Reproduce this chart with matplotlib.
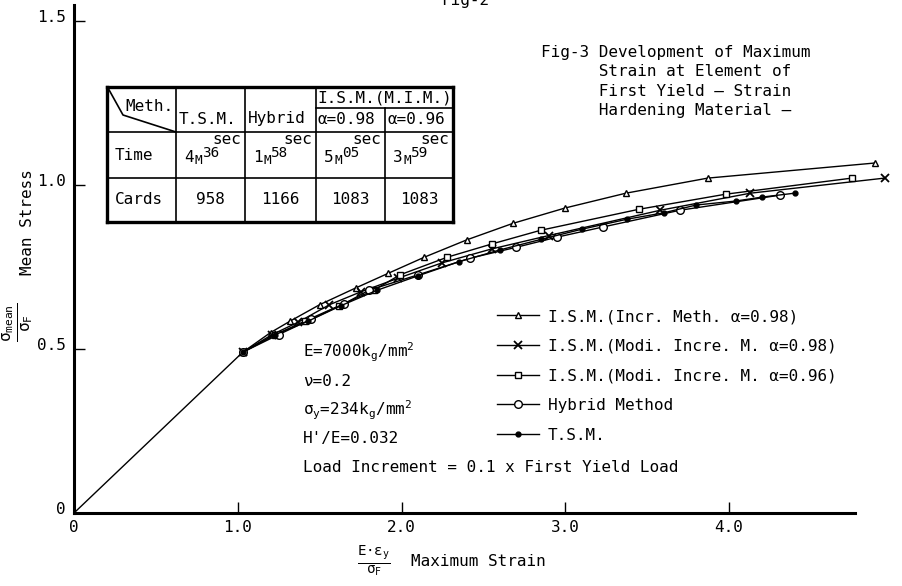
import matplotlib
matplotlib.use('Agg')
import matplotlib.pyplot as plt
import matplotlib.transforms as mtransforms
from matplotlib.lines import Line2D

plt.rcParams['font.family'] = ['DejaVu Sans Mono', 'DejaVu Sans']
plt.rcParams['mathtext.fontset'] = 'custom'
plt.rcParams['mathtext.rm'] = 'DejaVu Sans Mono'
plt.rcParams['mathtext.it'] = 'DejaVu Sans Mono'
plt.rcParams['mathtext.bf'] = 'DejaVu Sans Mono'

# --- data ---
elastic_x = [0.0, 1.03]
elastic_y = [0.0, 0.49]

tri_x = [1.03, 1.20, 1.32, 1.50, 1.72, 1.92, 2.14, 2.40, 2.68, 3.00, 3.37, 3.87, 4.89]
tri_y = [0.49, 0.55, 0.585, 0.635, 0.686, 0.731, 0.78, 0.833, 0.883, 0.93, 0.975, 1.021, 1.067]

cross_x = [1.03, 1.21, 1.37, 1.56, 1.75, 1.98, 2.25, 2.55, 2.90, 3.58, 4.13, 4.95]
cross_y = [0.49, 0.544, 0.582, 0.635, 0.674, 0.716, 0.763, 0.805, 0.846, 0.923, 0.975, 1.021]

sq_x = [1.03, 1.23, 1.41, 1.62, 1.83, 1.99, 2.28, 2.55, 2.85, 3.45, 3.98, 4.75]
sq_y = [0.49, 0.544, 0.585, 0.632, 0.679, 0.726, 0.78, 0.82, 0.862, 0.926, 0.972, 1.021]

circ_x = [1.03, 1.25, 1.45, 1.65, 1.80, 2.10, 2.42, 2.70, 2.95, 3.23, 3.70, 4.31]
circ_y = [0.49, 0.544, 0.591, 0.638, 0.679, 0.726, 0.777, 0.81, 0.841, 0.872, 0.923, 0.969]

tsm_x = [1.03, 1.23, 1.43, 1.63, 1.85, 2.10, 2.35, 2.60, 2.85, 3.10, 3.38, 3.60, 3.80, 4.04, 4.20, 4.40]
tsm_y = [0.49, 0.544, 0.585, 0.632, 0.679, 0.723, 0.766, 0.802, 0.834, 0.865, 0.896, 0.915, 0.939, 0.951, 0.963, 0.975]

legend_labels = ['I.S.M.(Incr. Meth. \u03b1=0.98)',
                 'I.S.M.(Modi. Incre. M. \u03b1=0.98)',
                 'I.S.M.(Modi. Incre. M. \u03b1=0.96)',
                 'Hybrid Method',
                 'T.S.M.']

x_ticks = [0, 1.0, 2.0, 3.0, 4.0]
x_ticklabels = ['0', '1.0', '2.0', '3.0', '4.0']
y_ticks = [0, 0.5, 1.0, 1.5]
y_ticklabels = ['0', '0.5', '1.0', '1.5']

param_lines = ['E=7000k$_{\\mathrm{g}}$/mm$^{2}$',
               '\u03bd=0.2',
               '\u03c3$_{\\mathrm{y}}$=234k$_{\\mathrm{g}}$/mm$^{2}$',
               "H'/E=0.032",
               'Load Increment = 0.1 x First Yield Load']

title_lines = ['Fig-3 Development of Maximum',
               '      Strain at Element of',
               '      First Yield \u2014 Strain',
               '      Hardening Material \u2014']

tab_heads = ['T.S.M.', 'Hybrid']
tab_ism = 'I.S.M.(M.I.M.)'
tab_alpha = ['\u03b1=0.98', '\u03b1=0.96']
time_min = ['4', '1', '5', '3']
time_sec = ['36', '58', '05', '59']
cards = ['958', '1166', '1083', '1083']

W, H = 902, 586
FS = 11.5
CW = FS * 100 / 72 * 0.602  # advance of one mono char in px


def P(x, y):
    # pixel (top-left origin) -> figure fraction
    return x / W, 1 - y / H


fig = plt.figure(figsize=(W / 100, H / 100), dpi=100)
x0, x1 = 74, 892.75          # x = 0 .. 5.0
y0 = 513                     # y = 0
ytop = y0 - 1.55 * 328       # y = 1.55
ax = fig.add_axes([x0 / W, 1 - y0 / H, (x1 - x0) / W, (y0 - ytop) / H])
ax.set_xlim(0, 5.0)
ax.set_ylim(0, 1.55)

lw = 1.0
ax.plot(elastic_x, elastic_y, color='black', lw=lw)
l1, = ax.plot(tri_x, tri_y, color='black', lw=lw, marker='^', ms=5, mfc='white', mew=1)
l2, = ax.plot(cross_x, cross_y, color='black', lw=lw, marker='x', ms=6, mew=1.3)
l3, = ax.plot(sq_x, sq_y, color='black', lw=lw, marker='s', ms=5, mfc='white', mew=1)
l4, = ax.plot(circ_x, circ_y, color='black', lw=lw, marker='o', ms=5.5, mfc='white', mew=1)
l5, = ax.plot(tsm_x, tsm_y, color='black', lw=lw, marker='o', ms=3.5)

for s in ['top', 'right']:
    ax.spines[s].set_visible(False)
ax.spines['left'].set_linewidth(2.2)
ax.spines['bottom'].set_linewidth(2.2)
ax.spines['bottom'].set_bounds(0, 4.77)
ax.set_xticks(x_ticks)
ax.set_xticklabels(x_ticklabels, fontsize=FS)
ax.set_yticks(y_ticks)
ax.set_yticklabels(y_ticklabels, fontsize=FS)
ax.tick_params(direction='in', length=8, width=1)
ax.tick_params(axis='x', pad=5)
ax.tick_params(axis='y', pad=6)
shift = mtransforms.ScaledTranslation(0, 5 / 100, fig.dpi_scale_trans)
for lab in ax.get_yticklabels():
    lab.set_transform(lab.get_transform() + shift)

leg = ax.legend([l1, l2, l3, l4, l5], legend_labels, loc='upper left',
                bbox_to_anchor=P(497, 309), bbox_transform=fig.transFigure,
                frameon=False, fontsize=FS, handlelength=2.6, handletextpad=0.6,
                labelspacing=0.92, borderpad=0, borderaxespad=0, numpoints=1)

for i, t in enumerate(param_lines):
    fig.text(*P(303, 352 + i * 29), t, fontsize=FS, va='center', ha='left')

for i, t in enumerate(title_lines):
    fig.text(*P(541, 53 + i * 19), t, fontsize=FS, va='center', ha='left')

fig.text(*P(465, 0), 'Fig-2', fontsize=FS, va='center', ha='center')

# axis labels
fig.text(*P(18, 322), r'$\frac{\sigma_{\mathrm{mean}}}{\sigma_{\mathrm{F}}}$',
         fontsize=FS + 5, rotation=90, va='center', ha='center')
fig.text(*P(28, 222), 'Mean Stress', fontsize=FS, rotation=90, va='center', ha='center')
fig.text(*P(374, 561), r'$\frac{\mathrm{E{\cdot}\epsilon_{y}}}{\sigma_{\mathrm{F}}}$',
         fontsize=FS + 3, va='center', ha='center')
fig.text(*P(411, 561), 'Maximum Strain', fontsize=FS, va='center', ha='left')

# --- table ---
cols = [107, 176, 245, 316, 385, 453]
rows = [87, 132, 178, 222]


def hline(xa, xb, y, w=1.2):
    fig.add_artist(Line2D([xa / W, xb / W], [1 - y / H, 1 - y / H], color='black', lw=w))


def vline(x, ya, yb, w=1.2):
    fig.add_artist(Line2D([x / W, x / W], [1 - ya / H, 1 - yb / H], color='black', lw=w))


hline(cols[0], cols[-1], rows[0], 2.4)
hline(cols[0], cols[-1], rows[-1], 2.4)
vline(cols[0], rows[0], rows[-1], 2.4)
vline(cols[-1], rows[0], rows[-1], 2.4)
hline(cols[0], cols[-1], rows[1])
hline(cols[0], cols[-1], rows[2])
for c in cols[1:4]:
    vline(c, rows[0], rows[-1])
vline(cols[4], 108, rows[-1])
hline(cols[3], cols[5], 108)
# bent diagonal in the corner cell
fig.add_artist(Line2D([108 / W, 123 / W, 176 / W],
                      [1 - 88 / H, 1 - 115 / H, 1 - 132 / H], color='black', lw=1.2))

fig.text(*P(125, 107), 'Meth.', fontsize=FS, va='center', ha='left')
fig.text(*P(179, 119), tab_heads[0], fontsize=FS, va='center', ha='left')
fig.text(*P(248, 119), tab_heads[1], fontsize=FS, va='center', ha='left')
fig.text(*P(385, 98), tab_ism, fontsize=FS, va='center', ha='center')
fig.text(*P(318, 119), tab_alpha[0], fontsize=FS, va='center', ha='left')
fig.text(*P(388, 119), tab_alpha[1], fontsize=FS, va='center', ha='left')

fig.text(*P(115, 156), 'Time', fontsize=FS, va='center', ha='left')
fig.text(*P(115, 200), 'Cards', fontsize=FS, va='center', ha='left')
for i in range(4):
    xl, xr = cols[i + 1], cols[i + 2]
    fig.text(*P(xr - 4, 139), 'sec', fontsize=FS, va='center', ha='right')
    xm = xl + 8
    fig.text(*P(xm, 157), time_min[i], fontsize=FS, va='center', ha='left')
    xm += CW + 0.5
    fig.text(*P(xm, 161), 'M', fontsize=FS * 0.8, va='center', ha='left')
    xm += CW * 0.8 + 0.5
    fig.text(*P(xm, 153), time_sec[i], fontsize=FS * 0.9, va='center', ha='left')
    fig.text(*P((xl + xr) / 2, 200), cards[i], fontsize=FS, va='center', ha='center')

fig.savefig('out.png', dpi=100)
